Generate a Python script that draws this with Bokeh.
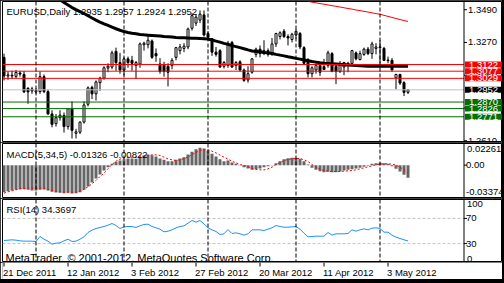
from bokeh.plotting import figure
from bokeh.models import Range1d, Span, Label, ColumnDataSource
from bokeh.layouts import column
from bokeh.embed import file_html
from bokeh.resources import INLINE
from bokeh.core.properties import value

nan = float("nan")
FONT = "Liberation Sans"

# ---------------- data ----------------
OPEN = [1.3170, 1.3045, 1.3050, 1.3042, 1.3065, 1.3055, 1.2962, 1.2958, 1.2938, 1.2940,
        1.3040, 1.2940, 1.2790, 1.2725, 1.2765, 1.2780, 1.2705, 1.2825, 1.2660, 1.2668,
        1.2735, 1.2855, 1.2968, 1.2925, 1.3000, 1.3030, 1.3098, 1.3105, 1.3210, 1.3135,
        1.3085, 1.3160, 1.3150, 1.3115, 1.3125, 1.3255, 1.3255, 1.3280, 1.3195, 1.3125,
        1.3120, 1.3110, 1.3115, 1.3170, 1.3215, 1.3230, 1.3240, 1.3365, 1.3400, 1.3420,
        1.3455, 1.3330, 1.3295, 1.3205, 1.3215, 1.3110, 1.3115, 1.3270, 1.3115, 1.3140,
        1.3085, 1.3018, 1.3070, 1.3190, 1.3225, 1.3195, 1.3215, 1.3190, 1.3260, 1.3310,
        1.3345, 1.3310, 1.3290, 1.3320, 1.3330, 1.3235, 1.3155, 1.3060, 1.3085, 1.3115,
        1.3108, 1.3115, 1.3195, 1.3110, 1.3075, 1.3105, 1.3125, 1.3130, 1.3200, 1.3155,
        1.3190, 1.3225, 1.3195, 1.3230, 1.3240, 1.3230, 1.3148, 1.3150, 1.3032, 1.3055,
        1.3000, 1.2935]
HIGH = [1.3195, 1.3075, 1.3080, 1.3085, 1.3080, 1.3078, 1.2970, 1.2972, 1.2962, 1.3075,
        1.3055, 1.2955, 1.2815, 1.2790, 1.2815, 1.2800, 1.2830, 1.2875, 1.2690, 1.2740,
        1.2875, 1.2975, 1.2980, 1.3015, 1.3040, 1.3110, 1.3130, 1.3215, 1.3235, 1.3200,
        1.3170, 1.3175, 1.3180, 1.3145, 1.3270, 1.3275, 1.3325, 1.3290, 1.3230, 1.3165,
        1.3140, 1.3130, 1.3165, 1.3240, 1.3260, 1.3265, 1.3370, 1.3465, 1.3460, 1.3485,
        1.3485, 1.3345, 1.3300, 1.3240, 1.3225, 1.3145, 1.3280, 1.3280, 1.3145, 1.3150,
        1.3095, 1.3110, 1.3165, 1.3235, 1.3250, 1.3285, 1.3230, 1.3300, 1.3335, 1.3345,
        1.3360, 1.3325, 1.3335, 1.3360, 1.3340, 1.3245, 1.3165, 1.3110, 1.3130, 1.3135,
        1.3160, 1.3215, 1.3205, 1.3130, 1.3145, 1.3140, 1.3140, 1.3220, 1.3210, 1.3215,
        1.3235, 1.3240, 1.3275, 1.3265, 1.3285, 1.3240, 1.3175, 1.3165, 1.3060, 1.3060,
        1.3010, 1.2957]
LOW = [1.3015, 1.3020, 1.3025, 1.3030, 1.3040, 1.2930, 1.2858, 1.2925, 1.2925, 1.2925,
       1.2930, 1.2785, 1.2700, 1.2705, 1.2745, 1.2665, 1.2685, 1.2625, 1.2625, 1.2655,
       1.2725, 1.2840, 1.2890, 1.2880, 1.2945, 1.3020, 1.3070, 1.3090, 1.3080, 1.3060,
       1.3050, 1.3100, 1.3080, 1.3025, 1.3100, 1.3215, 1.3230, 1.3160, 1.3140, 1.3060,
       1.3040, 1.2975, 1.3090, 1.3150, 1.3190, 1.3205, 1.3225, 1.3350, 1.3380, 1.3400,
       1.3310, 1.3285, 1.3180, 1.3175, 1.3100, 1.3095, 1.3100, 1.3100, 1.3085, 1.3075,
       1.3005, 1.3000, 1.3060, 1.3170, 1.3170, 1.3185, 1.3175, 1.3180, 1.3240, 1.3290,
       1.3300, 1.3250, 1.3270, 1.3295, 1.3225, 1.3120, 1.3035, 1.3035, 1.3060, 1.3045,
       1.3085, 1.3100, 1.3070, 1.2990, 1.3065, 1.3050, 1.3070, 1.3120, 1.3150, 1.3150,
       1.3180, 1.3185, 1.3160, 1.3190, 1.3130, 1.3145, 1.3130, 1.3075, 1.2955, 1.2985,
       1.2910, 1.2924]
CLOSE = [1.3045, 1.3052, 1.3045, 1.3068, 1.3058, 1.2938, 1.2938, 1.2945, 1.2948, 1.3040,
         1.2940, 1.2790, 1.2720, 1.2765, 1.2782, 1.2705, 1.2825, 1.2680, 1.2670, 1.2735,
         1.2850, 1.2965, 1.2925, 1.3005, 1.3030, 1.3100, 1.3110, 1.3200, 1.3135, 1.3085,
         1.3160, 1.3135, 1.3130, 1.3135, 1.3260, 1.3265, 1.3285, 1.3170, 1.3180, 1.3075,
         1.3075, 1.3070, 1.3150, 1.3235, 1.3240, 1.3245, 1.3360, 1.3450, 1.3440, 1.3460,
         1.3320, 1.3305, 1.3205, 1.3190, 1.3105, 1.3135, 1.3265, 1.3105, 1.3135, 1.3085,
         1.3015, 1.3060, 1.3160, 1.3225, 1.3195, 1.3215, 1.3190, 1.3260, 1.3330, 1.3335,
         1.3310, 1.3300, 1.3325, 1.3345, 1.3240, 1.3130, 1.3060, 1.3100, 1.3115, 1.3070,
         1.3088, 1.3200, 1.3075, 1.3075, 1.3125, 1.3135, 1.3130, 1.3215, 1.3160, 1.3195,
         1.3225, 1.3195, 1.3260, 1.3240, 1.3235, 1.3150, 1.3152, 1.3085, 1.3055, 1.2997,
         1.2935, 1.2952]
MA_SLOW = [nan] * 12 + [
    1.3595, 1.3575, 1.3556, 1.3538, 1.3521, 1.3504, 1.3490, 1.3477, 1.3464, 1.3449,
    1.3434, 1.3420, 1.3407, 1.3395, 1.3384, 1.3373, 1.3362, 1.3352, 1.3343, 1.3337,
    1.3332, 1.3328, 1.3324, 1.3321, 1.3319, 1.3317, 1.3315, 1.3313, 1.3310, 1.3308,
    1.3306, 1.3303, 1.3302, 1.3301, 1.3300, 1.3299, 1.3298, 1.3297, 1.3295, 1.3293,
    1.3286, 1.3279, 1.3272, 1.3264, 1.3257, 1.3249, 1.3242, 1.3235, 1.3228, 1.3220,
    1.3213, 1.3210, 1.3207, 1.3203, 1.3200, 1.3196, 1.3190, 1.3185, 1.3180, 1.3174,
    1.3169, 1.3163, 1.3158, 1.3152, 1.3147, 1.3142, 1.3138, 1.3134, 1.3131, 1.3129,
    1.3127, 1.3125, 1.3123, 1.3121, 1.3119, 1.3117, 1.3115, 1.3113, 1.3112, 1.3111,
    1.3110, 1.3110, 1.3110, 1.3110, 1.3110, 1.3110, 1.3110, 1.3110, 1.3110, 1.3110]
MA_RED = [nan] * 76 + [
    1.3546, 1.3541, 1.3536, 1.3531, 1.3527, 1.3522, 1.3517, 1.3513, 1.3508, 1.3503,
    1.3498, 1.3494, 1.3488, 1.3484, 1.3479, 1.3474, 1.3469, 1.3464, 1.3459, 1.3452,
    1.3445, 1.3438, 1.3431, 1.3424, 1.3417, 1.3411]
MACD_MAIN = [-0.02816, -0.02712, -0.02643, -0.02573, -0.02503, -0.02503, -0.02573, -0.02643, -0.02643, -0.02573,
             -0.02538, -0.02643, -0.02782, -0.02851, -0.02886, -0.02921, -0.02886, -0.02955, -0.02921, -0.02816,
             -0.02573, -0.02225, -0.01808, -0.01391, -0.00974, -0.00556, -0.00209, 0.00139, 0.00348, 0.00487,
             0.00626, 0.00695, 0.00695, 0.00661, 0.00834, 0.01008, 0.01113, 0.01043, 0.00904, 0.00695,
             0.00556, 0.00417, 0.00417, 0.00556, 0.00695, 0.00834, 0.01113, 0.01391, 0.01669, 0.01808,
             0.01739, 0.01530, 0.01182, 0.00904, 0.00626, 0.00417, 0.00487, 0.00278, 0.00139, -0.00035,
             -0.00209, -0.00348, -0.00487, -0.00417, -0.00348, -0.00209, -0.00104, 0.00020, 0.00209, 0.00417,
             0.00626, 0.00730, 0.00765, 0.00765, 0.00661, 0.00417, 0.00070, -0.00278, -0.00487, -0.00626,
             -0.00730, -0.00695, -0.00730, -0.00730, -0.00661, -0.00556, -0.00487, -0.00417, -0.00348, -0.00278,
             -0.00174, -0.00070, 0.00139, 0.00209, 0.00243, 0.00209, 0.00139, -0.00104, -0.00382, -0.00661,
             -0.01008, -0.01326]
MACD_SIGNAL = [-0.02921, -0.02782, -0.02677, -0.02573, -0.02469, -0.02434, -0.02399, -0.02399, -0.02399, -0.02399,
               -0.02399, -0.02503, -0.02643, -0.02712, -0.02782, -0.02816, -0.02816, -0.02816, -0.02816, -0.02712,
               -0.02503, -0.02260, -0.01947, -0.01599, -0.01182, -0.00834, -0.00382, 0.00070, 0.00417, 0.00626,
               0.00765, 0.00834, 0.00834, 0.00834, 0.00869, 0.00939, 0.01008, 0.01078, 0.01078, 0.01008,
               0.00834, 0.00661, 0.00556, 0.00487, 0.00556, 0.00695, 0.00834, 0.01113, 0.01321, 0.01530,
               0.01599, 0.01599, 0.01460, 0.01286, 0.01043, 0.00834, 0.00626, 0.00417, 0.00243, 0.00070,
               -0.00035, -0.00139, -0.00348, -0.00452, -0.00487, -0.00487, -0.00382, -0.00209, 0.00070, 0.00278,
               0.00487, 0.00591, 0.00661, 0.00695, 0.00695, 0.00556, 0.00382, 0.00070, -0.00209, -0.00417,
               -0.00556, -0.00626, -0.00661, -0.00661, -0.00661, -0.00626, -0.00591, -0.00556, -0.00487, -0.00382,
               -0.00278, -0.00174, -0.00070, 0.00035, 0.00104, 0.00139, 0.00139, 0.00104, 0.00000, -0.00209,
               -0.00487, -0.00822]
RSI = [34.92, 35.45, 35.98, 35.45, 34.39, 33.86, 33.86, 33.86, 33.33, 41.27,
       37.04, 33.86, 29.10, 30.69, 31.22, 34.39, 37.04, 33.33, 33.86, 37.04,
       40.74, 47.62, 51.32, 53.97, 55.56, 57.14, 59.26, 61.90, 58.73, 53.97,
       56.61, 57.14, 57.14, 55.56, 58.20, 60.32, 60.85, 57.14, 55.03, 52.91,
       48.68, 49.74, 51.85, 55.03, 57.14, 58.20, 62.43, 66.67, 64.02, 66.67,
       61.38, 55.03, 51.85, 49.21, 44.44, 45.50, 52.38, 46.03, 47.09, 45.50,
       43.39, 45.50, 51.85, 51.85, 51.85, 50.79, 52.91, 55.03, 58.73, 57.14,
       56.08, 56.08, 56.61, 57.14, 52.91, 46.56, 40.74, 41.27, 41.80, 41.80,
       41.80, 47.62, 43.39, 45.50, 45.50, 45.50, 46.03, 51.85, 49.74, 51.85,
       53.44, 51.85, 54.50, 55.03, 53.97, 48.15, 48.15, 43.39, 40.21, 38.10,
       35.98, 34.3697]

RED_LEVELS = [1.3122, 1.3029, 1.3077]      # drawn in this order (middle one on top)
GREEN_LEVELS = [1.2826, 1.2870, 1.2771]
BID = 1.2952
PRICE_TICKS = [1.3490, 1.3270, 1.3050, 1.2830, 1.2610]
MACD_TICKS = [0.02261, 0.0, -0.03374]
MACD_TICK_LABELS = ["0.02261", "0.00", "-0.03374"]
RSI_TICKS = [100, 70, 30, 0]
RSI_LEVELS = [70, 30]
SEPARATORS = [8, 30, 51, 73, 94]
DATE_TICKS = [0, 16, 32, 48, 64, 80, 96]
DATE_LABELS = ["21 Dec 2011", "12 Jan 2012", "3 Feb 2012", "27 Feb 2012",
               "20 Mar 2012", "11 Apr 2012", "3 May 2012"]
SYMBOL = "EURUSD,Daily"
COPYRIGHT = "MetaTrader, \u00a9 2001-2012, MetaQuotes Software Corp."

# ---------------- layout constants ----------------
W = 502
PX_PER_BAR = 4.0
X_START = -0.375
X_END = X_START + 500 / PX_PER_BAR          # frame spans the price-scale column too
X_AXIS = X_START + 461.5 / PX_PER_BAR       # the price-scale line
TICK = 3 / PX_PER_BAR
RED = "#FF0000"
GREEN = "#007000"
SILVER = "#C0C0C0"
FS = "9.5px"

idx = list(range(len(CLOSE)))
XR = Range1d(X_START, X_END)


def make_fig(height, y_range, top, bottom, outline=True):
    p = figure(width=W, height=height, x_range=XR, y_range=y_range,
               output_backend="svg", toolbar_location=None, tools="",
               x_axis_location=None, y_axis_location=None,
               min_border_left=2, min_border_right=0,
               min_border_top=top, min_border_bottom=bottom)
    p.grid.visible = False
    p.outline_line_color = "black" if outline else None
    p.outline_line_width = 1
    p.background_fill_color = "white"
    p.border_fill_color = "white"
    return p


def label(p, text, x, y, baseline="top", size=FS, x_units="data", y_units="data",
          color="black", y_offset=0, x_offset=0, bg=None):
    kw = {}
    if bg is not None:
        kw = dict(background_fill_color=bg, padding=dict(left=4, right=4, top=0, bottom=0))
    p.add_layout(Label(x=x, y=y, x_units=x_units, y_units=y_units, text=text,
                       text_font=FONT, text_font_size=size, text_color=color,
                       text_align="left", text_baseline=baseline,
                       x_offset=x_offset, y_offset=y_offset, **kw))


def pane_scale(p, ticks):
    """price-scale column at the right of a pane: line + tick marks"""
    p.add_layout(Span(location=X_AXIS, dimension="height", line_color="black", line_width=1))
    p.segment(x0=[X_AXIS] * len(ticks), x1=[X_AXIS + TICK] * len(ticks),
              y0=ticks, y1=ticks, line_color="black", line_width=1)
    for s in SEPARATORS:
        p.add_layout(Span(location=s, dimension="height", line_color="black",
                          line_width=1, line_dash="4 2"))


def hline(p, level, color, dash="solid"):
    p.segment(x0=[X_START], x1=[X_AXIS], y0=[level], y1=[level],
              line_color=color, line_width=1, line_dash=dash)


# ---------------- price pane ----------------
p1 = make_fig(142, Range1d(1.2605, 1.3545), 1, 1)

src = ColumnDataSource(dict(
    x=idx, high=HIGH, low=LOW,
    top=[max(o, c) for o, c in zip(OPEN, CLOSE)],
    bottom=[min(o, c) for o, c in zip(OPEN, CLOSE)],
    fill=["white" if c >= o else "black" for o, c in zip(OPEN, CLOSE)],
))
p1.segment(x0="x", y0="low", x1="x", y1="high", source=src, line_color="black", line_width=1)
p1.vbar(x="x", width=0.5, top="top", bottom="bottom", fill_color="fill",
        line_color="black", line_width=1, source=src)
p1.line(idx, MA_SLOW, line_color="black", line_width=3)
p1.line(idx, MA_RED, line_color=RED, line_width=1)

for lv in RED_LEVELS:
    hline(p1, lv, RED)
for lv in GREEN_LEVELS:
    hline(p1, lv, GREEN)
hline(p1, BID, SILVER)

pane_scale(p1, PRICE_TICKS)
p1.text(x=[X_AXIS + 1.0] * len(PRICE_TICKS), y=PRICE_TICKS,
        text=[f"{t:.4f}" for t in PRICE_TICKS],
        text_font=value(FONT), text_font_size=value(FS), text_color="black",
        text_align="left", text_baseline="middle")

title = f"{SYMBOL}  {OPEN[-1]:.4f} {HIGH[-1]:.4f} {LOW[-1]:.4f} {CLOSE[-1]:.4f}"
label(p1, title, 4, 135.5, x_units="screen", y_units="screen")

for lv in RED_LEVELS:
    label(p1, f"{lv:.4f}", X_AXIS + 0.25, lv, baseline="middle", color="white", bg=RED)
label(p1, f"{BID:.4f}", X_AXIS + 0.25, BID, baseline="middle", color="white", bg="black")
for lv in GREEN_LEVELS:
    label(p1, f"{lv:.4f}", X_AXIS + 0.25, lv, baseline="middle", color="white", bg=GREEN)

# ---------------- MACD pane ----------------
p2 = make_fig(56, Range1d(MACD_TICKS[2], MACD_TICKS[0]), 1, 1)
p2.vbar(x=idx, width=0.75, top=MACD_MAIN, bottom=0, fill_color="#666666", line_color=None)
p2.line(idx, MACD_SIGNAL, line_color=RED, line_width=1, line_dash="2 2")
pane_scale(p2, MACD_TICKS)
label(p2, f"MACD(5,34,5) {MACD_MAIN[-1]:.5f} {MACD_SIGNAL[-1]:.5f}", 4, 49,
      x_units="screen", y_units="screen")
label(p2, MACD_TICK_LABELS[0], X_AXIS + 0.75, MACD_TICKS[0], baseline="top", y_offset=-2)
label(p2, MACD_TICK_LABELS[1], X_AXIS + 0.5, MACD_TICKS[1], baseline="middle")
label(p2, MACD_TICK_LABELS[2], X_AXIS + 0.5, MACD_TICKS[2], baseline="bottom", y_offset=3)

# ---------------- RSI pane ----------------
p3 = make_fig(64, Range1d(0, 100), 1, 0)
for lv in RSI_LEVELS:
    hline(p3, lv, SILVER, dash="3 2")
p3.line(idx, RSI, line_color="#1E90FF", line_width=1)
pane_scale(p3, RSI_TICKS)
label(p3, f"RSI(14) {RSI[-1]:.4f}", 4, 59, x_units="screen", y_units="screen")
label(p3, str(RSI_TICKS[0]), X_AXIS + 0.75, RSI_TICKS[0], baseline="top", y_offset=-1)
for t in RSI_TICKS[1:3]:
    label(p3, str(t), X_AXIS + 0.5, t, baseline="middle")
label(p3, str(RSI_TICKS[3]), X_AXIS + 0.75, RSI_TICKS[3], baseline="bottom", y_offset=1)
label(p3, COPYRIGHT, 3, -1.5, baseline="bottom", size="11px",
      x_units="screen", y_units="screen")

# ---------------- date scale ----------------
p4 = make_fig(17, Range1d(0, 17), 0, 0, outline=False)
p4.segment(x0=DATE_TICKS, x1=DATE_TICKS, y0=[17] * len(DATE_TICKS), y1=[13] * len(DATE_TICKS),
           line_color="black", line_width=1)
p4.text(x=DATE_TICKS, y=[12.5] * len(DATE_TICKS), text=DATE_LABELS, x_offset=-1,
        text_font=value(FONT), text_font_size=value(FS), text_color="black",
        text_align="left", text_baseline="top")

layout = column(p1, p2, p3, p4, width=504, height=283, styles={"background-color": "black"})

open("out.html", "w").write(file_html(layout, INLINE))
